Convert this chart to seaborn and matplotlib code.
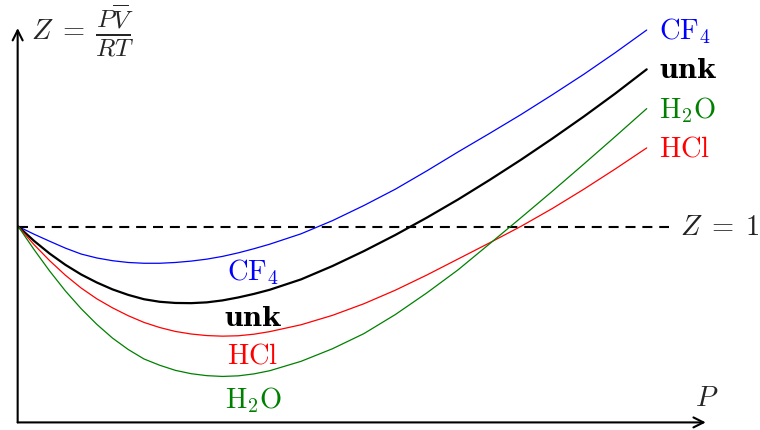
import matplotlib
matplotlib.use("Agg")
import matplotlib.pyplot as plt
import seaborn as sns
import pandas as pd

sns.set_theme(style="white")
plt.rcParams["mathtext.fontset"] = "cm"
plt.rcParams["font.family"] = ["DejaVu Serif"]

# pressure grid (arbitrary units) and compressibility factor
P = [0, 0.25, 0.5, 0.75, 1, 1.25, 1.5, 1.75, 2, 2.25, 2.5, 2.75, 3, 3.25,
     3.5, 3.75, 4, 4.5, 5, 5.5, 6, 6.5, 7, 7.5, 8, 8.5, 9, 9.5, 10]
Z_cf4 = [1.000, 0.961, 0.925, 0.890, 0.860, 0.840, 0.826, 0.817, 0.813, 0.813,
         0.817, 0.824, 0.834, 0.848, 0.866, 0.887, 0.910, 0.963, 1.030, 1.107,
         1.190, 1.283, 1.380, 1.474, 1.570, 1.671, 1.775, 1.885, 2.000]
Z_unk = [1.000, 0.927, 0.862, 0.805, 0.756, 0.715, 0.680, 0.652, 0.630, 0.617,
         0.611, 0.610, 0.614, 0.624, 0.639, 0.657, 0.678, 0.731, 0.799, 0.875,
         0.957, 1.045, 1.138, 1.237, 1.340, 1.448, 1.560, 1.677, 1.800]
Z_hcl = [1.000, 0.908, 0.826, 0.752, 0.687, 0.632, 0.586, 0.546, 0.512, 0.486,
         0.466, 0.453, 0.445, 0.442, 0.444, 0.452, 0.465, 0.500, 0.548, 0.607,
         0.676, 0.753, 0.835, 0.917, 1.001, 1.092, 1.190, 1.293, 1.400]
Z_h2o = [1.000, 0.883, 0.773, 0.672, 0.582, 0.502, 0.432, 0.374, 0.326, 0.294,
         0.268, 0.251, 0.241, 0.237, 0.240, 0.250, 0.266, 0.314, 0.378, 0.455,
         0.552, 0.662, 0.780, 0.912, 1.045, 1.180, 1.318, 1.458, 1.600]

gases = ["CF4", "unk", "HCl", "H2O"]
colors = {"CF4": "#0000ff", "unk": "black", "HCl": "#ff0000", "H2O": "#008000"}
labels = {"CF4": r"$\mathrm{CF}_4$", "unk": "unk",
          "HCl": r"$\mathrm{HCl}$", "H2O": r"$\mathrm{H}_2\mathrm{O}$"}

df = pd.DataFrame({
    "P": P * 4,
    "Z": Z_cf4 + Z_unk + Z_hcl + Z_h2o,
    "gas": sum([[g] * len(P) for g in gases], []),
})

fig = plt.figure(figsize=(7.6, 4.31), dpi=100)
ax = fig.add_axes([0, 0, 1, 1])

# ideal gas reference
ax.plot([0, 10.35], [1, 1], color="black", lw=1.5, dashes=(4.8, 3.3))


def put_label(g, x, y, ha):
    if g == "unk":
        ax.text(x, y, labels[g], color=colors[g], fontsize=19, ha=ha,
                va="center", family="DejaVu Serif", fontweight="bold")
    else:
        ax.text(x, y, labels[g], color=colors[g], fontsize=20.5, ha=ha,
                va="center")


for g in gases:
    sub = df[df.gas == g]
    sns.lineplot(data=sub, x="P", y="Z", ax=ax, color=colors[g],
                 lw=1.6 if g == "unk" else 0.9, legend=False, estimator=None)
    put_label(g, 10.2, sub.Z.iloc[-1], "left")

# labels under the curves
for g, zl in zip(gases, [0.771, 0.535, 0.346, 0.122]):
    put_label(g, 3.735, zl, "center")

ax.text(10.53, 1.0, r"$Z\;=\;1$", fontsize=20.5, ha="left", va="center",
        color="#222222")

# axes with arrows
arrow = dict(arrowstyle="->", lw=1.5, color="black", mutation_scale=18,
             shrinkA=0, shrinkB=0)
ax.annotate("", xy=(10.94, 0.003), xytext=(-0.01, 0.003), arrowprops=arrow)
ax.annotate("", xy=(-0.01, 2.01), xytext=(-0.01, 0.003), arrowprops=arrow)
ax.text(10.95, 0.13, r"$P$", fontsize=20.5, ha="center", va="center")
ax.text(0.2, 2.0, r"$Z\;=$", fontsize=20.5, ha="left", va="center")
ax.text(1.22, 2.0, r"$\frac{P\overline{V}}{RT}$", fontsize=26, ha="left",
        va="center")

ax.set_xlim(-0.291, 11.803)
ax.set_ylim(-0.0356, 2.158)
ax.axis("off")

fig.savefig("out.png", dpi=100)
